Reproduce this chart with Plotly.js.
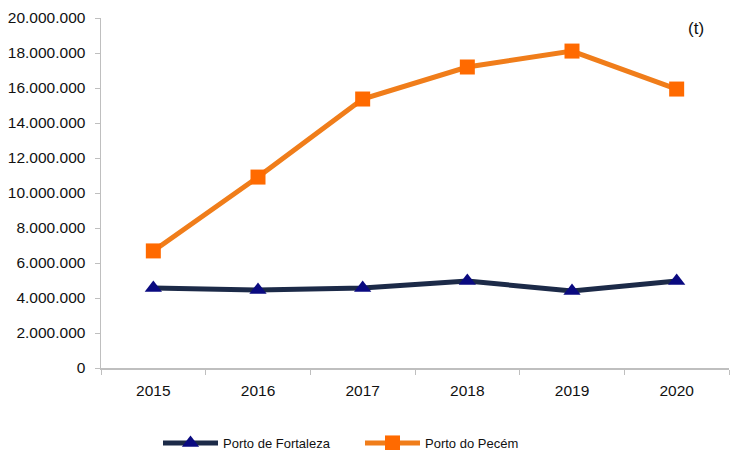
<!DOCTYPE html>
<html>
<head>
<meta charset="utf-8">
<script src="https://cdn.plot.ly/plotly-3.0.1.min.js"></script>
<style>html,body{margin:0;padding:0;background:#fff;}#chart{width:730px;height:450px;}</style>
</head>
<body>
<div id="chart"></div>
<script>
const years = ['2015', '2016', '2017', '2018', '2019', '2020'];
const fortaleza = [4570000, 4460000, 4570000, 4970000, 4400000, 4970000];
const pecem = [6690000, 10910000, 15370000, 17200000, 18110000, 15940000];
const yTicks = [0, 2000000, 4000000, 6000000, 8000000, 10000000, 12000000, 14000000, 16000000, 18000000, 20000000];

const font = '"Liberation Sans", Arial, sans-serif';

const traces = [
  {
    x: years, y: fortaleza, name: 'Porto de Fortaleza', type: 'scatter', mode: 'lines+markers',
    line: {color: '#1c2a48', width: 5},
    marker: {symbol: 'triangle-up', size: 15, color: '#0a0a80'}
  },
  {
    x: years, y: pecem, name: 'Porto do Pecém', type: 'scatter', mode: 'lines+markers',
    line: {color: '#f07d1a', width: 5},
    marker: {symbol: 'square', size: 15, color: '#ff6a00'}
  }
];

const layout = {
  width: 730, height: 450,
  margin: {l: 101, r: 1, t: 18, b: 82},
  paper_bgcolor: '#fff', plot_bgcolor: '#fff',
  separators: ',.',
  font: {family: font, size: 15.5, color: '#111'},
  showlegend: true,
  legend: {
    orientation: 'h', xref: 'container', yref: 'container',
    x: 158/730, xanchor: 'left', y: 1 - 443/450, yanchor: 'middle',
    entrywidth: 132, entrywidthmode: 'pixels', itemwidth: 55,
    font: {family: font, size: 13, color: '#111'}, bgcolor: 'rgba(0,0,0,0)'
  },
  xaxis: {
    type: 'category', range: [-0.5, 5.5], fixedrange: true,
    showline: true, linecolor: '#bfbfbf', linewidth: 1.5,
    ticks: 'outside', tickson: 'boundaries', ticklen: 5, tickcolor: '#bfbfbf',
    showgrid: false, zeroline: false, ticklabelstandoff: 8,
    tickfont: {family: font, size: 15.5, color: '#111'}
  },
  yaxis: {
    range: [0, 20000000], tickvals: yTicks, tickformat: ',d',
    showline: true, linecolor: '#bfbfbf', linewidth: 1.5,
    ticks: 'outside', ticklen: 5, tickcolor: '#bfbfbf',
    showgrid: false, zeroline: false, fixedrange: true, ticklabelstandoff: 6,
    tickfont: {family: font, size: 15.5, color: '#111'}
  },
  annotations: [{
    text: '(t)', xref: 'paper', yref: 'paper', x: (696 - 101) / 628, y: (368 - 28) / 350,
    showarrow: false, xanchor: 'center', yanchor: 'middle',
    font: {family: font, size: 17, color: '#111'}
  }]
};

Plotly.newPlot('chart', traces, layout, {displayModeBar: false, staticPlot: true});
</script>
</body>
</html>
